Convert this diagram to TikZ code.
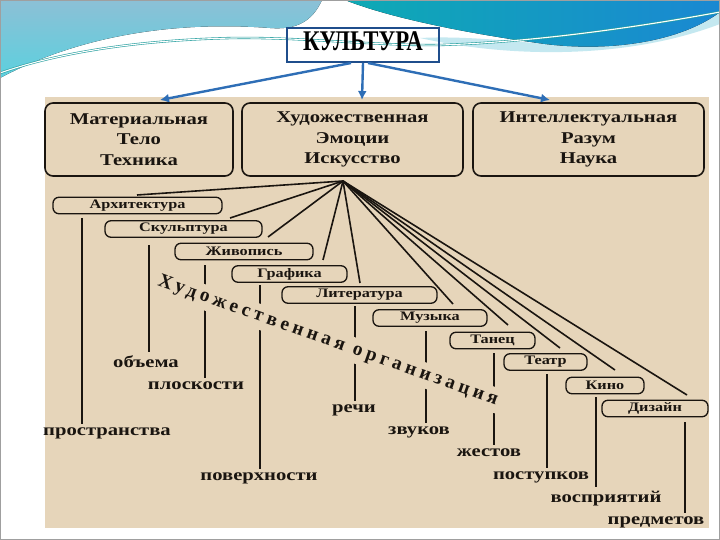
\documentclass[tikz,border=0pt]{standalone}
\usepackage{fontspec}
\setmainfont{Liberation Serif}
\newfontfamily\widerm[FakeStretch=1.25]{Liberation Serif}
\newfontfamily\narrowrm[FakeStretch=0.8]{Liberation Serif}
\newfontfamily\spacedrm[LetterSpace=21]{Liberation Serif}
\usetikzlibrary{arrows.meta, calc}

\definecolor{panel}{RGB}{230,213,186}
\definecolor{ink}{RGB}{26,21,16}
\definecolor{frameblue}{RGB}{31,78,140}
\definecolor{arrowblue}{RGB}{46,110,182}
\definecolor{skytop}{RGB}{140,192,214}
\definecolor{skybot}{RGB}{92,208,222}
\definecolor{tealA}{RGB}{14,170,180}
\definecolor{tealB}{RGB}{26,136,210}
\definecolor{palecyan}{RGB}{196,232,240}
\definecolor{waveline}{RGB}{40,160,160}

\tikzset{
  bigbox/.style={draw=ink, line width=1.6pt, fill=panel, rounded corners=8pt,
    minimum height=73pt, inner sep=0pt, align=center, text=ink,
    font=\widerm\bfseries\fontsize{16.5}{20.5}\selectfont},
  pill/.style={draw=ink, line width=1.3pt, fill=panel, rounded corners=6pt,
    minimum height=16.5pt, inner sep=0pt, text=ink,
    font=\widerm\bfseries\fontsize{13}{14}\selectfont},
  word/.style={anchor=base, inner sep=3pt, text=ink,
    font=\widerm\bfseries\fontsize{16.5}{18}\selectfont},
  fanline/.style={draw=ink, line width=1.6pt},
  stem/.style={draw=ink, line width=1.7pt},
  cultarrow/.style={draw=arrowblue, line width=2.4pt, -{Latex[length=9pt,width=9pt]}}
}

\begin{document}
\begin{tikzpicture}[x=1pt,y=-1pt]
\useasboundingbox (0,0) rectangle (720,540);
% backdrop with the waves
\fill[white] (0,0) rectangle (720,540);
\fill[top color=skytop, bottom color=skybot] (0,0) -- (322,0) .. controls (312,22) and (296,30) .. (270,28) .. controls (190,22) and (90,30) .. (0,78) -- cycle;
\fill[palecyan] (420,38) .. controls (500,56) and (620,62) .. (720,24) -- (720,12) .. controls (680,42) and (610,52) .. (545,44) .. controls (500,40) and (460,36) .. (420,38) -- cycle;
\fill[left color=tealA, right color=tealB] (345,0) -- (720,0) -- (720,12) .. controls (680,42) and (610,52) .. (545,44) .. controls (470,34) and (390,18) .. (345,0) -- cycle;
\draw[waveline, line width=0.6pt, double=white, double distance=1.1pt] (0,73) .. controls (60,52) and (140,40) .. (233,38) .. controls (300,37) and (380,46) .. (440,45) .. controls (540,42) and (650,25) .. (720,12);
\draw[gray!75, line width=1.2pt] (0.6,0.6) rectangle (719.4,539.4);
\fill[panel] (45,97) rectangle (709,528);

% culture and its three sides
\node[draw=frameblue, line width=2pt, minimum width=152pt, minimum height=34pt, inner sep=0pt, text height=19pt, text depth=7pt, font=\narrowrm\bfseries\fontsize{28.5}{30}\selectfont] (Cult) at (363,45) {КУЛЬТУРА};
\coordinate (toMat) at (160,100);
\coordinate (toHud) at (362,100);
\coordinate (toInt) at (550,100);
\draw[cultarrow] ([xshift=-12pt]Cult.south) -- (toMat);
\draw[cultarrow] (Cult.south) -- (toHud);
\draw[cultarrow] ([xshift=5pt]Cult.south) -- (toInt);

\node[bigbox, minimum width=188pt] (Mat) at (139,139.5) {Материальная\\Тело\\Техника};
\node[bigbox, minimum width=221pt] (Hud) at (352.5,139.5) {Художественная\\Эмоции\\Искусство};
\node[bigbox, minimum width=231pt] (Int) at (588.5,139.5) {Интеллектуальная\\Разум\\Наука};

% the arts
\coordinate (hub) at (343,181);
\node[pill, minimum width=169pt] (Arch) at (137.5,205.5) {Архитектура};
\node[pill, minimum width=157pt] (Skul) at (183.5,229) {Скульптура};
\node[pill, minimum width=138pt] (Zhiv) at (244,251.5) {Живопись};
\node[pill, minimum width=115pt] (Graf) at (289.5,274) {Графика};
\node[pill, minimum width=155pt] (Lit) at (359.5,295) {Литература};
\node[pill, minimum width=114pt] (Muz) at (430,318) {Музыка};
\node[pill, minimum width=85pt] (Tan) at (492.5,340.5) {Танец};
\node[pill, minimum width=83pt] (Teat) at (545.5,362) {Театр};
\node[pill, minimum width=78pt] (Kino) at (605,385.5) {Кино};
\node[pill, minimum width=106pt] (Diz) at (655,408.5) {Дизайн};

\coordinate (a1) at (137,195);
\coordinate (a2) at (230,218);
\coordinate (a3) at (268,237);
\coordinate (a4) at (323,260);
\coordinate (a5) at (360,283);
\coordinate (a6) at (453,304);
\coordinate (a7) at (508,325);
\coordinate (a8) at (560,348);
\coordinate (a9) at (615,370);
\coordinate (a10) at (687,395);
\draw[fanline] (hub) -- (a1);
\draw[fanline] (hub) -- (a2);
\draw[fanline] (hub) -- (a3);
\draw[fanline] (hub) -- (a4);
\draw[fanline] (hub) -- (a5);
\draw[fanline] (hub) -- (a6);
\draw[fanline] (hub) -- (a7);
\draw[fanline] (hub) -- (a8);
\draw[fanline] (hub) -- (a9);
\draw[fanline] (hub) -- (a10);

% what each art organizes
\node[word] (L1) at (107,435) {пространства};
\node[word] (L2) at (146,367) {объема};
\node[word] (L3) at (196,389) {плоскости};
\node[word] (L4) at (259,480) {поверхности};
\node[word] (L5) at (354,412) {речи};
\node[word] (L6) at (419,434) {звуков};
\node[word] (L7) at (489,456) {жестов};
\node[word] (L8) at (541,479) {поступков};
\node[word] (L9) at (606,502) {восприятий};
\node[word] (L10) at (656,524) {предметов};

\coordinate (v1) at (82,218);
\coordinate (v2) at (149,245);
\coordinate (v3) at (205,265);
\coordinate (v4) at (260,285);
\coordinate (v5) at (355,306);
\coordinate (v6) at (426,331);
\coordinate (v7) at (494,353);
\coordinate (v8) at (547,374);
\coordinate (v9) at (596,397);
\coordinate (v10) at (685,422);
\draw[stem] (v1) -- (v1 |- L1.north);
\draw[stem] (v2) -- (v2 |- L2.north);
\draw[stem] (v3) -- (v3 |- L3.north);
\draw[stem] (v4) -- (v4 |- L4.north);
\draw[stem] (v5) -- (v5 |- L5.north);
\draw[stem] (v6) -- (v6 |- L6.north);
\draw[stem] (v7) -- (v7 |- L7.north);
\draw[stem] (v8) -- (v8 |- L8.north);
\draw[stem] (v9) -- (v9 |- L9.north);
\draw[stem] (v10) -- (v10 |- L10.north);

% slanted caption over the stems
\node[rotate=-19.5, fill=panel, inner sep=4pt, text=ink, font=\spacedrm\bfseries\fontsize{19.5}{21}\selectfont] (Org) at (328,341) {Художественная организация};
\end{tikzpicture}
\end{document}
